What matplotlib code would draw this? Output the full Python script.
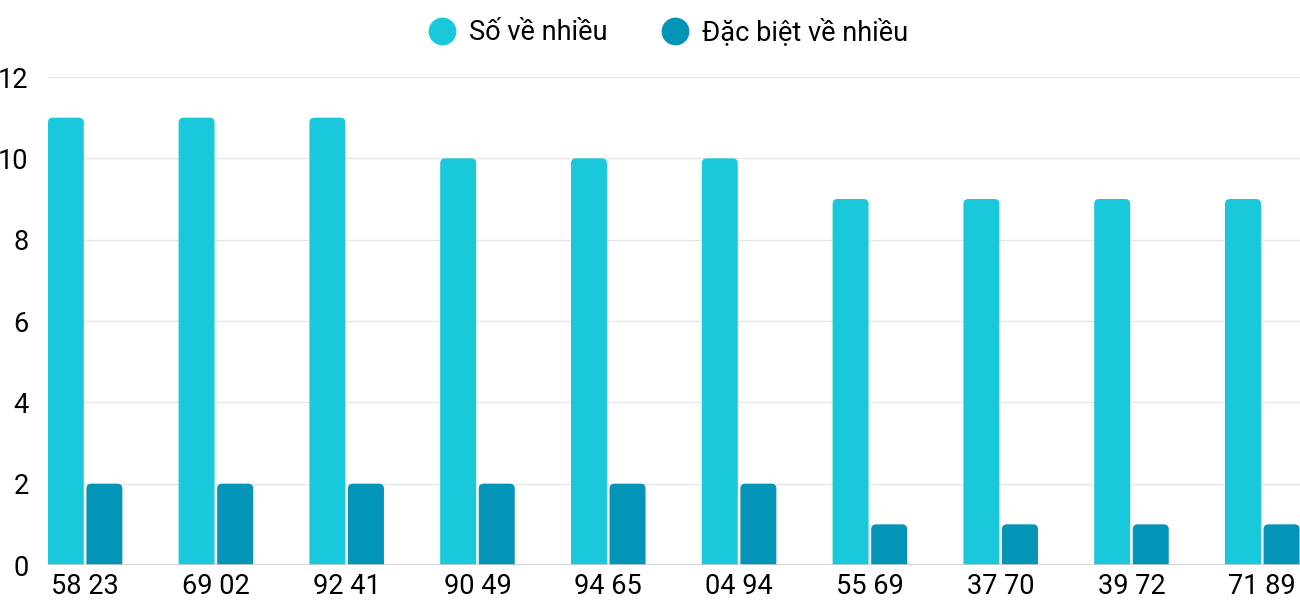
import matplotlib.pyplot as plt
from matplotlib.patches import FancyBboxPatch
from matplotlib.lines import Line2D
import numpy as np

plt.rcParams['font.family'] = ['Roboto', 'DejaVu Sans']

labels = ["58 23", "69 02", "92 41", "90 49", "94 65", "04 94", "55 69", "37 70", "39 72", "71 89"]
so_ve_nhieu = [11, 11, 11, 10, 10, 10, 9, 9, 9, 9]
dac_biet = [2, 2, 2, 2, 2, 2, 1, 1, 1, 1]

c_light = "#1ac8db"
c_dark = "#0494b7"

fig = plt.figure(figsize=(13, 6), dpi=100)
ax = fig.add_axes([48/1300, 35/600, 1252/1300, 488/600])

x = np.arange(len(labels))
w = 0.275
ax.set_xlim(-0.283, 9.289)
ax.set_ylim(0, 12)

# px per unit, for round corners
px_x = 1252 / (9.289 + 0.283)
px_y = 488 / 12
r_px = 5
aspect = px_x / px_y

def rounded_bars(xs, vals, color):
    for xi, v in zip(xs, vals):
        rx = r_px / px_x
        p = FancyBboxPatch((xi - w/2, -1), w, v + 1,
                           boxstyle="round,pad=0,rounding_size=%f" % rx,
                           mutation_aspect=aspect, fc=color, ec="none", zorder=3)
        ax.add_patch(p)

rounded_bars(x - 0.147, so_ve_nhieu, c_light)
rounded_bars(x + 0.148, dac_biet, c_dark)

ax.set_yticks(range(0, 13, 2))
ax.grid(axis='y', color='#e6e6e6', lw=1, zorder=0)
ax.set_xticks(x)
ax.set_xticklabels(labels)
for s in ax.spines.values():
    s.set_visible(False)
ax.axhline(0, color='#cccccc', lw=1.2, zorder=4)
ax.tick_params(axis='both', length=0, labelsize=19.5, colors='black')
ax.tick_params(axis='y', pad=14)
ax.tick_params(axis='x', pad=6)

handles = [Line2D([], [], ls='none', marker='o', ms=20, mfc=c_light, mec='none'),
           Line2D([], [], ls='none', marker='o', ms=20, mfc=c_dark, mec='none')]
fig.legend(handles, ["Số về nhiều", "Đặc biệt về nhiều"], loc='upper center',
           bbox_to_anchor=(0.513, 1.01), ncol=2, frameon=False, fontsize=19.5,
           handletextpad=0.4, columnspacing=1.9, handlelength=1.2)

fig.savefig("out.png", dpi=100)
